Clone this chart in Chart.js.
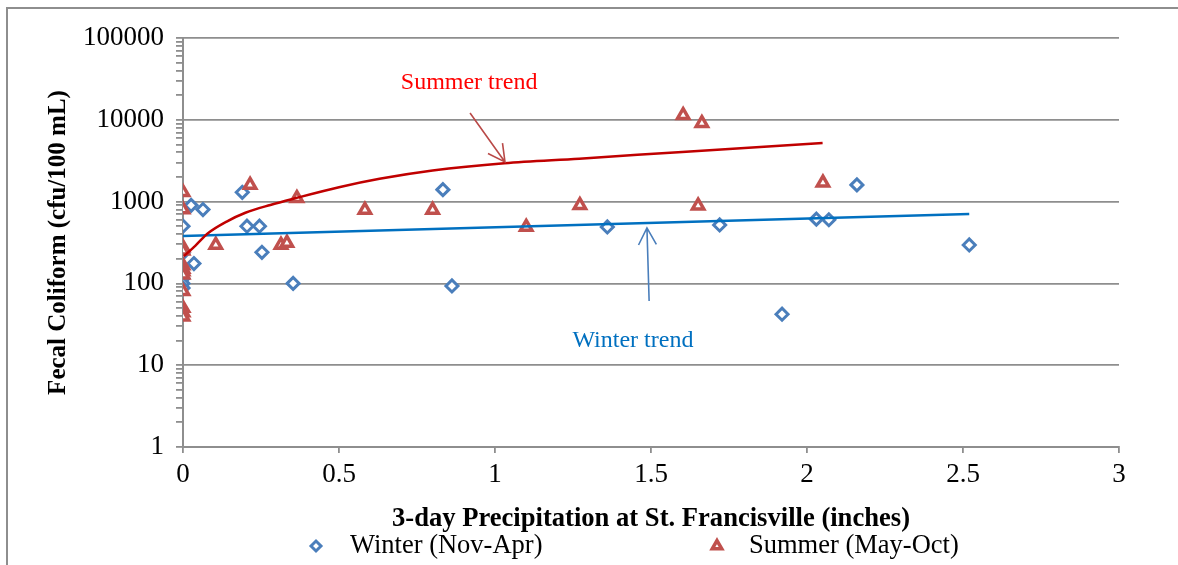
<!DOCTYPE html>
<html>
<head>
<meta charset="utf-8">
<script src="https://cdn.jsdelivr.net/npm/chart.js@4.4.1/dist/chart.umd.min.js"></script>
<style>
html,body{margin:0;padding:0;background:#fff;}
canvas{display:block;}
</style>
</head>
<body>
<canvas id="c" width="1178" height="565"></canvas>
<script>
// ---- Data ----
const winterX = [0, 0, 0, 0, 0, 0.026, 0.035, 0.064, 0.19, 0.205, 0.245, 0.253, 0.353, 0.833, 0.862, 1.36, 1.72, 1.92, 2.03, 2.07, 2.16, 2.52];
const winterY = [500, 235, 115, 100, 88, 900, 175, 800, 1300, 500, 500, 240, 100, 1400, 93, 490, 518, 42, 610, 600, 1600, 295];

const summerX = [0, 0, 0, 0, 0, 0, 0, 0, 0, 0, 0, 0, 0.105, 0.215, 0.314, 0.333, 0.365, 0.583, 0.8, 1.1, 1.272, 1.603, 1.651, 1.663, 2.051];
const summerY = [1300, 800, 275, 250, 165, 150, 140, 128, 80, 50, 44, 39, 295, 1600, 295, 312, 1100, 790, 790, 490, 905, 11400, 890, 9100, 1700];

// Trend lines
const winterTrendX = [0, 2.52];
const winterTrendY = [380, 705];
const summerTrendX = [0.003, 0.04, 0.08, 0.14, 0.2, 0.28, 0.36, 0.5, 0.63, 0.8, 1.03, 1.27, 1.6, 2.05];
const summerTrendY = [215, 290, 410, 570, 730, 910, 1100, 1500, 1900, 2400, 2950, 3350, 4050, 5200];

// Axis ticks
const xTicks = [0, 0.5, 1, 1.5, 2, 2.5, 3];
const yMajorTicks = [1, 10, 100, 1000, 10000, 100000];

// Labels
const seriesNames = ['Winter (Nov-Apr)', 'Summer (May-Oct)'];
const xTitle = '3-day Precipitation at St. Francisville (inches)';
const yTitle = 'Fecal Coliform (cfu/100 mL)';
const annotations = [
  {text: 'Summer trend', color: '#FF0000', arrowColor: '#B94A48', tx: 0.917, ty: 28200, fromX: 0.92, fromY: 12100, toX: 1.032, toY: 3050},
  {text: 'Winter trend', color: '#0070C0', arrowColor: '#4A7EBB', tx: 1.442, ty: 19.8, fromX: 1.494, fromY: 61, toX: 1.487, toY: 476}
];

// ---- Build ----
const FONT = 'Liberation Serif';
const GRID = '#8e8e8e';
const BLUE = '#4A7EBB';
const RED = '#C0504D';
const toPts = (xs, ys) => xs.map((x, i) => ({x: x, y: ys[i]}));

const yAllTicks = [];
yMajorTicks.forEach((m, i) => {
  yAllTicks.push(m);
  if (i < yMajorTicks.length - 1) for (let k = 2; k <= 9; k++) yAllTicks.push(m * k);
});

const decorPlugin = {
  id: 'decor',
  afterDraw(chart) {
    const ctx = chart.ctx;
    const xs = chart.scales.x, ys = chart.scales.y;
    ctx.save();
    // outer frame
    ctx.strokeStyle = GRID;
    ctx.lineWidth = 2;
    ctx.beginPath();
    ctx.moveTo(7, 565); ctx.lineTo(7, 8); ctx.lineTo(1178, 8);
    ctx.stroke();
    // annotations
    annotations.forEach(a => {
      ctx.fillStyle = a.color;
      ctx.font = '24px "' + FONT + '"';
      ctx.textAlign = 'center';
      ctx.textBaseline = 'middle';
      ctx.fillText(a.text, xs.getPixelForValue(a.tx), ys.getPixelForValue(a.ty));
      const x1 = xs.getPixelForValue(a.fromX), y1 = ys.getPixelForValue(a.fromY);
      const x2 = xs.getPixelForValue(a.toX), y2 = ys.getPixelForValue(a.toY);
      ctx.strokeStyle = a.arrowColor;
      ctx.lineWidth = 1.6;
      ctx.beginPath();
      ctx.moveTo(x1, y1); ctx.lineTo(x2, y2);
      const ang = Math.atan2(y1 - y2, x1 - x2);
      const L = 19, w = 28 * Math.PI / 180;
      ctx.moveTo(x2 + L * Math.cos(ang - w), y2 + L * Math.sin(ang - w));
      ctx.lineTo(x2, y2);
      ctx.lineTo(x2 + L * Math.cos(ang + w), y2 + L * Math.sin(ang + w));
      ctx.stroke();
    });
    // legend
    ctx.font = '26.5px "' + FONT + '"';
    ctx.fillStyle = '#000';
    ctx.textAlign = 'left';
    ctx.textBaseline = 'middle';
    const ly = 546;
    ctx.fillText(seriesNames[0], 350, ly);
    ctx.fillText(seriesNames[1], 749, ly);
    ctx.strokeStyle = BLUE; ctx.fillStyle = '#fff'; ctx.lineWidth = 3;
    Chart.helpers.drawPoint(ctx, {pointStyle: 'rectRot', radius: 5, borderWidth: 3}, 316, ly);
    ctx.strokeStyle = RED; ctx.fillStyle = '#fff'; ctx.lineWidth = 3.5;
    Chart.helpers.drawPoint(ctx, {pointStyle: 'triangle', radius: 5.5, borderWidth: 3.5}, 717, ly);
    ctx.restore();
  }
};

new Chart(document.getElementById('c'), {
  type: 'scatter',
  data: {
    datasets: [
      {label: 'Summer trend', type: 'line', data: toPts(summerTrendX, summerTrendY), borderColor: '#C00000', borderWidth: 2.5, pointRadius: 0, cubicInterpolationMode: 'monotone', fill: false, order: 0},
      {label: 'Winter trend', type: 'line', data: toPts(winterTrendX, winterTrendY), borderColor: '#0070C0', borderWidth: 2.5, pointRadius: 0, fill: false, order: 1},
      {label: seriesNames[1], data: toPts(summerX, summerY), pointStyle: 'triangle', pointRadius: 6.5, borderWidth: 3.5, borderColor: RED, backgroundColor: '#fff', order: 2},
      {label: seriesNames[0], data: toPts(winterX, winterY), pointStyle: 'rectRot', pointRadius: 6, borderWidth: 3, borderColor: BLUE, backgroundColor: '#fff', order: 3}
    ]
  },
  options: {
    responsive: false,
    animation: false,
    devicePixelRatio: 1,
    layout: {padding: {left: 40, top: 38, right: 59, bottom: 26}},
    plugins: {legend: {display: false}, tooltip: {enabled: false}},
    scales: {
      x: {
        type: 'linear', min: 0, max: 3,
        afterBuildTicks: axis => { axis.ticks = xTicks.map(v => ({value: v})); },
        ticks: {font: {family: FONT, size: 27}, color: '#000', padding: 6, maxRotation: 0, autoSkip: false, callback: v => String(v)},
        grid: {drawOnChartArea: false, tickLength: 6, tickColor: GRID, lineWidth: 1.8},
        border: {color: GRID, width: 2},
        title: {display: true, text: xTitle, font: {family: FONT, size: 26.6, weight: 'bold'}, color: '#000', padding: {top: 4, bottom: 4}},
        afterFit: s => { s.height = 92; }
      },
      y: {
        type: 'logarithmic', min: 1, max: 100000,
        afterBuildTicks: axis => { axis.ticks = yAllTicks.map(v => ({value: v, major: yMajorTicks.includes(v)})); },
        ticks: {
          autoSkip: false, font: {family: FONT, size: 27}, color: '#000', padding: 12,
          callback: v => yMajorTicks.includes(v) ? String(v) : ''
        },
        grid: {
          color: c => (c.tick && yMajorTicks.includes(c.tick.value)) ? GRID : 'rgba(0,0,0,0)',
          tickColor: GRID, tickLength: 7, lineWidth: 1.8
        },
        border: {color: GRID, width: 2},
        title: {display: true, text: yTitle, font: {family: FONT, size: 25, weight: 'bold'}, color: '#000', padding: {top: 4, bottom: 4}},
        afterFit: s => { s.width = 143; }
      }
    }
  },
  plugins: [decorPlugin]
});
</script>
</body>
</html>
